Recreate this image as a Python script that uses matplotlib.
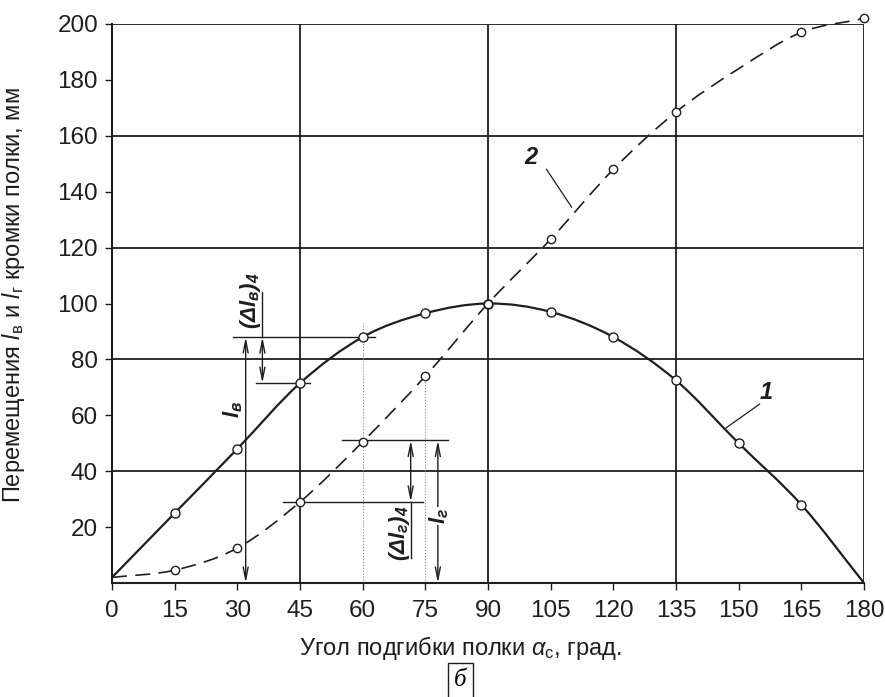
import numpy as np
import matplotlib
matplotlib.use("Agg")
import matplotlib.pyplot as plt
from matplotlib.path import Path
from matplotlib.patches import PathPatch

# ---------------------------------------------------------------------------
# Data
# ---------------------------------------------------------------------------
angles = [0, 15, 30, 45, 60, 75, 90, 105, 120, 135, 150, 165, 180]
l_v = [2, 25, 48, 71.5, 88, 96.5, 100, 97, 88, 72.5, 50, 28, 0]          # curve 1
l_g = [2, 4.6, 12.5, 29, 50.5, 74, 100, 123, 148, 168.5, 184, 197, 202]  # curve 2

marks_v = [1, 2, 3, 4, 5, 6, 7, 8, 9, 10, 11]
marks_g = [1, 2, 3, 4, 5, 6, 7, 8, 9, 11, 12]

x_ticks = list(range(0, 181, 15))
y_ticks = list(range(20, 201, 20))

ink = "#1e1e1e"

plt.rcParams["font.family"] = ["Liberation Sans", "DejaVu Sans"]
plt.rcParams["mathtext.fontset"] = "custom"
plt.rcParams["mathtext.rm"] = "Liberation Sans"
plt.rcParams["mathtext.it"] = "Liberation Sans:italic"
plt.rcParams["mathtext.bf"] = "Liberation Sans:italic:bold"


def smooth_path(xs, ys):
    """Bezier path through the read points (Catmull-Rom tangents)."""
    p = np.column_stack([xs, ys]).astype(float)
    verts = [p[0]]
    codes = [Path.MOVETO]
    for i in range(len(p) - 1):
        t0 = (p[i + 1] - p[i - 1]) / 2 if i > 0 else p[1] - p[0]
        t1 = (p[i + 2] - p[i]) / 2 if i + 2 < len(p) else p[-1] - p[-2]
        verts += [p[i] + t0 / 3, p[i + 1] - t1 / 3, p[i + 1]]
        codes += [Path.CURVE4] * 3
    return Path(verts, codes)


fig = plt.figure(figsize=(8.85, 6.97), dpi=100)
ax = fig.add_axes([112 / 885, 1 - 583 / 697, 752 / 885, 559 / 697])
ax.set_xlim(0, 180)
ax.set_ylim(0, 200)

# --- grid -------------------------------------------------------------------
for gx in [45, 90, 135, 180]:
    ax.axvline(gx, color=ink, lw=1.3, zorder=1)
for gy in [40, 80, 120, 160, 200]:
    ax.axhline(gy, color=ink, lw=1.3, zorder=1)
ax.plot([60, 60], [0, 93], color="#888888", lw=0.8, ls=":", zorder=1)
ax.plot([75, 75], [0, 76], color="#888888", lw=0.8, ls=":", zorder=1)

for side in ["top", "right"]:
    ax.spines[side].set_visible(False)
for side in ["left", "bottom"]:
    ax.spines[side].set_color(ink)
    ax.spines[side].set_linewidth(1.5)

# --- curves -----------------------------------------------------------------
ax.add_patch(PathPatch(smooth_path(angles, l_v), fc="none", ec=ink, lw=1.6, zorder=3))
ax.add_patch(PathPatch(smooth_path(angles, l_g), fc="none", ec=ink, lw=1.2,
                       ls=(0, (9, 5)), zorder=3, clip_on=False))
ax.plot(angles, l_v, ls="none", zorder=4,
        marker="o", markevery=marks_v, ms=6.5, mfc="white", mec=ink, mew=1.0)
ax.plot(angles, l_g, ls="none", zorder=4, clip_on=False,
        marker="o", markevery=marks_g, ms=6, mfc="white", mec=ink, mew=1.0)

# --- dimension lines ----------------------------------------------------------
def hline(x0, x1, y):
    ax.plot([x0, x1], [y, y], color=ink, lw=1.0, zorder=2)

def arrow(x, y0, y1, style):
    ax.annotate("", xy=(x, y1), xytext=(x, y0),
                arrowprops=dict(arrowstyle=style + ",head_length=0.9,head_width=0.18",
                                color=ink, lw=1.0, shrinkA=0, shrinkB=0))

hline(29, 63, 88)
hline(34.5, 47.5, 71.5)
arrow(32, 0, 88, "<->")
ax.plot([36, 36], [88, 104], color=ink, lw=1.0)
arrow(36, 88, 71.5, "<->")

hline(55, 80.5, 51)
hline(41, 74.5, 29)
arrow(78, 0, 51, "<->")
ax.plot([71.5, 71.5], [9, 29], color=ink, lw=1.0)
arrow(71.5, 51, 29, "<->")

lab = dict(fontsize=16, rotation=90, ha="center", va="center", color=ink)
ax.text(29, 62, r"$\mathbf{l_{в}}$", **lab)
ax.text(33.2, 101, r"$\mathbf{(\Delta l_{в})_4}$", **lab)
ax.text(68.8, 18, r"$\mathbf{(\Delta l_{г})_4}$", **lab)
ax.text(78.2, 24, r"$\mathbf{l_{г}}$",
        bbox=dict(fc="white", ec="none", pad=0.5), **lab)

# curve numbers with leader lines
ax.plot([155, 147], [64, 55.5], color=ink, lw=0.9)
ax.text(156.5, 68, r"$\mathbf{1}$", fontsize=17, ha="center", va="center", color=ink)
ax.plot([104, 110], [148, 134.5], color=ink, lw=0.9)
ax.text(100.5, 152, r"$\mathbf{2}$", fontsize=17, ha="center", va="center", color=ink)

# --- ticks and labels -------------------------------------------------------
ax.set_xticks(x_ticks)
ax.set_yticks(y_ticks)
ax.tick_params(axis="both", direction="out", length=5, width=1.0, color=ink,
               labelsize=17.5, labelcolor=ink)
ax.tick_params(axis="x", pad=7)
ax.tick_params(axis="y", pad=5)

ax.set_ylabel(r"Перемещения $\mathit{l}_{\mathrm{в}}$ и $\mathit{l}_{\mathrm{г}}$ кромки полки, мм",
              fontsize=17, color=ink)
ax.yaxis.set_label_coords(-0.113, 0.515)
ax.set_xlabel(r"Угол подгибки полки $\alpha_{\mathrm{с}}$, град.", fontsize=17, color=ink)
ax.xaxis.set_label_coords(0.463, -0.092)

fig.text(0.52, 0.008, "б", fontsize=18, family="Liberation Serif", style="italic",
         ha="center", va="bottom",
         bbox=dict(boxstyle="square,pad=0.25", fc="white", ec=ink, lw=1.0))

fig.savefig("out.png", dpi=100)
